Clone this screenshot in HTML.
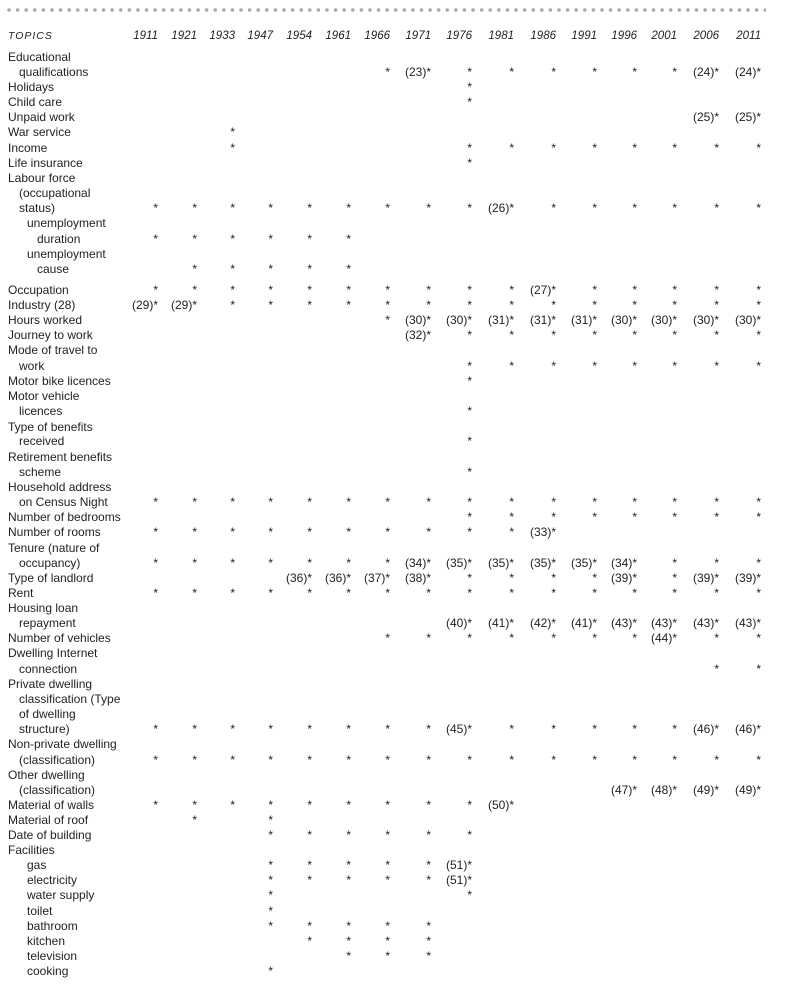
<!DOCTYPE html>
<html><head><meta charset="utf-8"><style>
body{margin:0;background:#fff;width:789px;height:988px;position:relative;overflow:hidden;font-family:"Liberation Sans",Arial,sans-serif;font-size:12px;color:#222}
.dots{position:absolute;left:6px;top:7px;width:760px;height:6px;background:radial-gradient(circle at 3px 3px,#a8a8a8 1.6px,transparent 2px);background-size:8.6px 6px}
.r{position:absolute;left:0;width:789px;height:15px;line-height:15px;transform:translateY(1px)}
.r i{font-style:normal;position:absolute;left:8px;white-space:nowrap}
.r i.s{left:19px}.r i.u{left:27px}.r i.v{left:37px}
.r b{font-weight:normal;position:absolute;width:40px;text-align:right}
.h{font-style:italic;font-size:11.5px}
.h i{font-style:italic;letter-spacing:1px;font-size:10.5px}
.c0{left:118px}.c1{left:157px}.c2{left:195px}.c3{left:233px}.c4{left:272px}.c5{left:311px}.c6{left:350px}.c7{left:391px}.c8{left:432px}.c9{left:474px}.c10{left:516px}.c11{left:557px}.c12{left:597px}.c13{left:637px}.c14{left:679px}.c15{left:721px}
</style></head><body>
<div class="dots"></div>
<div class="r h" style="top:28px"><i>TOPICS</i><b class="c0">1911</b><b class="c1">1921</b><b class="c2">1933</b><b class="c3">1947</b><b class="c4">1954</b><b class="c5">1961</b><b class="c6">1966</b><b class="c7">1971</b><b class="c8">1976</b><b class="c9">1981</b><b class="c10">1986</b><b class="c11">1991</b><b class="c12">1996</b><b class="c13">2001</b><b class="c14">2006</b><b class="c15">2011</b></div>

<div class="r" style="top:49px"><i>Educational</i></div>
<div class="r" style="top:64px"><i class="s">qualifications</i><b class="c6">*</b><b class="c7">(23)*</b><b class="c8">*</b><b class="c9">*</b><b class="c10">*</b><b class="c11">*</b><b class="c12">*</b><b class="c13">*</b><b class="c14">(24)*</b><b class="c15">(24)*</b></div>
<div class="r" style="top:79px"><i>Holidays</i><b class="c8">*</b></div>
<div class="r" style="top:94px"><i>Child care</i><b class="c8">*</b></div>
<div class="r" style="top:109px"><i>Unpaid work</i><b class="c14">(25)*</b><b class="c15">(25)*</b></div>
<div class="r" style="top:124px"><i>War service</i><b class="c2">*</b></div>
<div class="r" style="top:140px"><i>Income</i><b class="c2">*</b><b class="c8">*</b><b class="c9">*</b><b class="c10">*</b><b class="c11">*</b><b class="c12">*</b><b class="c13">*</b><b class="c14">*</b><b class="c15">*</b></div>
<div class="r" style="top:155px"><i>Life insurance</i><b class="c8">*</b></div>
<div class="r" style="top:170px"><i>Labour force</i></div>
<div class="r" style="top:185px"><i class="s">(occupational</i></div>
<div class="r" style="top:200px"><i class="s">status)</i><b class="c0">*</b><b class="c1">*</b><b class="c2">*</b><b class="c3">*</b><b class="c4">*</b><b class="c5">*</b><b class="c6">*</b><b class="c7">*</b><b class="c8">*</b><b class="c9">(26)*</b><b class="c10">*</b><b class="c11">*</b><b class="c12">*</b><b class="c13">*</b><b class="c14">*</b><b class="c15">*</b></div>
<div class="r" style="top:215px"><i class="u">unemployment</i></div>
<div class="r" style="top:231px"><i class="v">duration</i><b class="c0">*</b><b class="c1">*</b><b class="c2">*</b><b class="c3">*</b><b class="c4">*</b><b class="c5">*</b></div>
<div class="r" style="top:246px"><i class="u">unemployment</i></div>
<div class="r" style="top:261px"><i class="v">cause</i><b class="c1">*</b><b class="c2">*</b><b class="c3">*</b><b class="c4">*</b><b class="c5">*</b></div>

<div class="r" style="top:282px"><i>Occupation</i><b class="c0">*</b><b class="c1">*</b><b class="c2">*</b><b class="c3">*</b><b class="c4">*</b><b class="c5">*</b><b class="c6">*</b><b class="c7">*</b><b class="c8">*</b><b class="c9">*</b><b class="c10">(27)*</b><b class="c11">*</b><b class="c12">*</b><b class="c13">*</b><b class="c14">*</b><b class="c15">*</b></div>
<div class="r" style="top:297px"><i>Industry (28)</i><b class="c0">(29)*</b><b class="c1">(29)*</b><b class="c2">*</b><b class="c3">*</b><b class="c4">*</b><b class="c5">*</b><b class="c6">*</b><b class="c7">*</b><b class="c8">*</b><b class="c9">*</b><b class="c10">*</b><b class="c11">*</b><b class="c12">*</b><b class="c13">*</b><b class="c14">*</b><b class="c15">*</b></div>
<div class="r" style="top:312px"><i>Hours worked</i><b class="c6">*</b><b class="c7">(30)*</b><b class="c8">(30)*</b><b class="c9">(31)*</b><b class="c10">(31)*</b><b class="c11">(31)*</b><b class="c12">(30)*</b><b class="c13">(30)*</b><b class="c14">(30)*</b><b class="c15">(30)*</b></div>
<div class="r" style="top:327px"><i>Journey to work</i><b class="c7">(32)*</b><b class="c8">*</b><b class="c9">*</b><b class="c10">*</b><b class="c11">*</b><b class="c12">*</b><b class="c13">*</b><b class="c14">*</b><b class="c15">*</b></div>
<div class="r" style="top:342px"><i>Mode of travel to</i></div>
<div class="r" style="top:358px"><i class="s">work</i><b class="c8">*</b><b class="c9">*</b><b class="c10">*</b><b class="c11">*</b><b class="c12">*</b><b class="c13">*</b><b class="c14">*</b><b class="c15">*</b></div>
<div class="r" style="top:373px"><i>Motor bike licences</i><b class="c8">*</b></div>
<div class="r" style="top:388px"><i>Motor vehicle</i></div>
<div class="r" style="top:403px"><i class="s">licences</i><b class="c8">*</b></div>
<div class="r" style="top:419px"><i>Type of benefits</i></div>
<div class="r" style="top:433px"><i class="s">received</i><b class="c8">*</b></div>
<div class="r" style="top:449px"><i>Retirement benefits</i></div>
<div class="r" style="top:464px"><i class="s">scheme</i><b class="c8">*</b></div>
<div class="r" style="top:479px"><i>Household address</i></div>
<div class="r" style="top:494px"><i class="s">on Census Night</i><b class="c0">*</b><b class="c1">*</b><b class="c2">*</b><b class="c3">*</b><b class="c4">*</b><b class="c5">*</b><b class="c6">*</b><b class="c7">*</b><b class="c8">*</b><b class="c9">*</b><b class="c10">*</b><b class="c11">*</b><b class="c12">*</b><b class="c13">*</b><b class="c14">*</b><b class="c15">*</b></div>
<div class="r" style="top:509px"><i>Number of bedrooms</i><b class="c8">*</b><b class="c9">*</b><b class="c10">*</b><b class="c11">*</b><b class="c12">*</b><b class="c13">*</b><b class="c14">*</b><b class="c15">*</b></div>
<div class="r" style="top:524px"><i>Number of rooms</i><b class="c0">*</b><b class="c1">*</b><b class="c2">*</b><b class="c3">*</b><b class="c4">*</b><b class="c5">*</b><b class="c6">*</b><b class="c7">*</b><b class="c8">*</b><b class="c9">*</b><b class="c10">(33)*</b></div>
<div class="r" style="top:540px"><i>Tenure (nature of</i></div>
<div class="r" style="top:555px"><i class="s">occupancy)</i><b class="c0">*</b><b class="c1">*</b><b class="c2">*</b><b class="c3">*</b><b class="c4">*</b><b class="c5">*</b><b class="c6">*</b><b class="c7">(34)*</b><b class="c8">(35)*</b><b class="c9">(35)*</b><b class="c10">(35)*</b><b class="c11">(35)*</b><b class="c12">(34)*</b><b class="c13">*</b><b class="c14">*</b><b class="c15">*</b></div>
<div class="r" style="top:570px"><i>Type of landlord</i><b class="c4">(36)*</b><b class="c5">(36)*</b><b class="c6">(37)*</b><b class="c7">(38)*</b><b class="c8">*</b><b class="c9">*</b><b class="c10">*</b><b class="c11">*</b><b class="c12">(39)*</b><b class="c13">*</b><b class="c14">(39)*</b><b class="c15">(39)*</b></div>
<div class="r" style="top:585px"><i>Rent</i><b class="c0">*</b><b class="c1">*</b><b class="c2">*</b><b class="c3">*</b><b class="c4">*</b><b class="c5">*</b><b class="c6">*</b><b class="c7">*</b><b class="c8">*</b><b class="c9">*</b><b class="c10">*</b><b class="c11">*</b><b class="c12">*</b><b class="c13">*</b><b class="c14">*</b><b class="c15">*</b></div>
<div class="r" style="top:600px"><i>Housing loan</i></div>
<div class="r" style="top:615px"><i class="s">repayment</i><b class="c8">(40)*</b><b class="c9">(41)*</b><b class="c10">(42)*</b><b class="c11">(41)*</b><b class="c12">(43)*</b><b class="c13">(43)*</b><b class="c14">(43)*</b><b class="c15">(43)*</b></div>
<div class="r" style="top:630px"><i>Number of vehicles</i><b class="c6">*</b><b class="c7">*</b><b class="c8">*</b><b class="c9">*</b><b class="c10">*</b><b class="c11">*</b><b class="c12">*</b><b class="c13">(44)*</b><b class="c14">*</b><b class="c15">*</b></div>
<div class="r" style="top:645px"><i>Dwelling Internet</i></div>
<div class="r" style="top:661px"><i class="s">connection</i><b class="c14">*</b><b class="c15">*</b></div>
<div class="r" style="top:676px"><i>Private dwelling</i></div>
<div class="r" style="top:691px"><i class="s">classification (Type</i></div>
<div class="r" style="top:706px"><i class="s">of dwelling</i></div>
<div class="r" style="top:721px"><i class="s">structure)</i><b class="c0">*</b><b class="c1">*</b><b class="c2">*</b><b class="c3">*</b><b class="c4">*</b><b class="c5">*</b><b class="c6">*</b><b class="c7">*</b><b class="c8">(45)*</b><b class="c9">*</b><b class="c10">*</b><b class="c11">*</b><b class="c12">*</b><b class="c13">*</b><b class="c14">(46)*</b><b class="c15">(46)*</b></div>
<div class="r" style="top:736px"><i>Non-private dwelling</i></div>
<div class="r" style="top:752px"><i class="s">(classification)</i><b class="c0">*</b><b class="c1">*</b><b class="c2">*</b><b class="c3">*</b><b class="c4">*</b><b class="c5">*</b><b class="c6">*</b><b class="c7">*</b><b class="c8">*</b><b class="c9">*</b><b class="c10">*</b><b class="c11">*</b><b class="c12">*</b><b class="c13">*</b><b class="c14">*</b><b class="c15">*</b></div>
<div class="r" style="top:767px"><i>Other dwelling</i></div>
<div class="r" style="top:782px"><i class="s">(classification)</i><b class="c12">(47)*</b><b class="c13">(48)*</b><b class="c14">(49)*</b><b class="c15">(49)*</b></div>
<div class="r" style="top:797px"><i>Material of walls</i><b class="c0">*</b><b class="c1">*</b><b class="c2">*</b><b class="c3">*</b><b class="c4">*</b><b class="c5">*</b><b class="c6">*</b><b class="c7">*</b><b class="c8">*</b><b class="c9">(50)*</b></div>
<div class="r" style="top:812px"><i>Material of roof</i><b class="c1">*</b><b class="c3">*</b></div>
<div class="r" style="top:827px"><i>Date of building</i><b class="c3">*</b><b class="c4">*</b><b class="c5">*</b><b class="c6">*</b><b class="c7">*</b><b class="c8">*</b></div>
<div class="r" style="top:842px"><i>Facilities</i></div>
<div class="r" style="top:857px"><i class="u">gas</i><b class="c3">*</b><b class="c4">*</b><b class="c5">*</b><b class="c6">*</b><b class="c7">*</b><b class="c8">(51)*</b></div>
<div class="r" style="top:872px"><i class="u">electricity</i><b class="c3">*</b><b class="c4">*</b><b class="c5">*</b><b class="c6">*</b><b class="c7">*</b><b class="c8">(51)*</b></div>
<div class="r" style="top:887px"><i class="u">water supply</i><b class="c3">*</b><b class="c8">*</b></div>
<div class="r" style="top:903px"><i class="u">toilet</i><b class="c3">*</b></div>
<div class="r" style="top:918px"><i class="u">bathroom</i><b class="c3">*</b><b class="c4">*</b><b class="c5">*</b><b class="c6">*</b><b class="c7">*</b></div>
<div class="r" style="top:933px"><i class="u">kitchen</i><b class="c4">*</b><b class="c5">*</b><b class="c6">*</b><b class="c7">*</b></div>
<div class="r" style="top:948px"><i class="u">television</i><b class="c5">*</b><b class="c6">*</b><b class="c7">*</b></div>
<div class="r" style="top:963px"><i class="u">cooking</i><b class="c3">*</b></div>
</body></html>
